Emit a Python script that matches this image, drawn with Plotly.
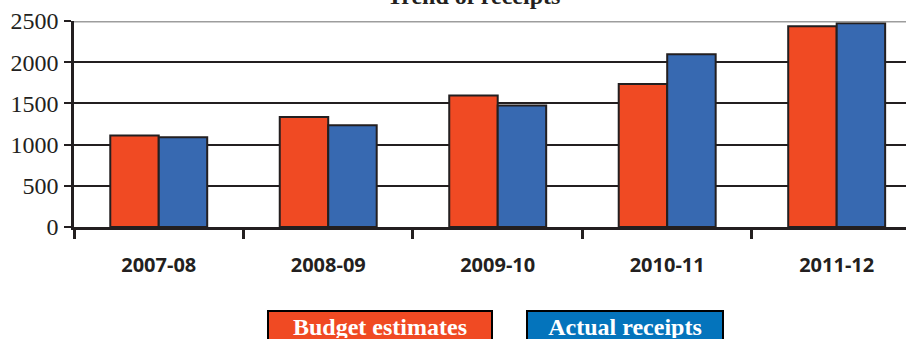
import plotly.graph_objects as go

categories = ["2007-08", "2008-09", "2009-10", "2010-11", "2011-12"]
budget_estimates = [1110, 1335, 1595, 1735, 2437]
actual_receipts = [1090, 1235, 1475, 2095, 2473]
y_ticks = [0, 500, 1000, 1500, 2000, 2500]

RED = "#F04A23"
BLUE = "#3769B1"
LEG_BLUE = "#0474BC"
INK = "#231F20"

W, H = 906, 339
L, R, T, B = 74, 0, 21, 112
pw, ph = W - L - R, H - T - B

def px_x(px):
    return (px - L) / pw

def px_y(py):
    return (H - B - py) / ph

fig = go.Figure()
fig.add_trace(go.Bar(x=categories, y=budget_estimates, name="Budget estimates",
                     marker=dict(color=RED, line=dict(color=INK, width=2))))
fig.add_trace(go.Bar(x=categories, y=actual_receipts, name="Actual receipts",
                     marker=dict(color=BLUE, line=dict(color=INK, width=2))))

fig.update_layout(
    width=W, height=H,
    margin=dict(l=L, r=R, t=T, b=B, pad=0),
    paper_bgcolor="white", plot_bgcolor="white",
    barmode="group", bargap=0.428, bargroupgap=0,
    showlegend=False,
)
fig.update_xaxes(
    type="category", range=[-0.5, 4.409],
    showline=True, linecolor=INK, linewidth=2.5,
    ticks="outside", tickson="boundaries", ticklen=9, tickwidth=2.5, tickcolor=INK,
    tickfont=dict(family="Open Sans", size=20, color=INK, weight="bold"),
    ticklabelstandoff=18,
    showgrid=False, zeroline=False,
)
fig.update_yaxes(
    range=[0, 2500], tickvals=y_ticks, ticktext=[str(v) for v in y_ticks],
    showline=True, linecolor=INK, linewidth=2.5,
    ticks="outside", ticklen=7, tickwidth=2, tickcolor=INK,
    tickfont=dict(family="Liberation Serif", size=24, color=INK),
    ticklabelstandoff=1,
    showgrid=True, gridcolor=INK, gridwidth=2,
    zeroline=False,
)

# gray top border line at the top of the value range
fig.add_shape(type="line", xref="paper", yref="y", x0=0, x1=1, y0=2500, y1=2500,
              line=dict(color="#9D9D9D", width=3), layer="above")

# title
fig.add_annotation(text="<b>Trend of receipts</b>", xref="paper", yref="paper",
                   x=px_x(473), y=px_y(11), xanchor="center", yanchor="bottom",
                   showarrow=False,
                   font=dict(family="Liberation Serif", size=24, color=INK))

# legend boxes
for label, color, cx, bw in [("Budget estimates", RED, 380, 214),
                             ("Actual receipts", LEG_BLUE, 625, 186)]:
    fig.add_annotation(text="<b>%s</b>" % label, xref="paper", yref="paper",
                       x=px_x(cx), y=px_y(310), xanchor="center", yanchor="top",
                       showarrow=False, bgcolor=color, bordercolor="#000000",
                       borderwidth=2, borderpad=4, width=bw, height=22,
                       font=dict(family="Liberation Serif", size=24, color="white"))

fig.write_html("out.html")
